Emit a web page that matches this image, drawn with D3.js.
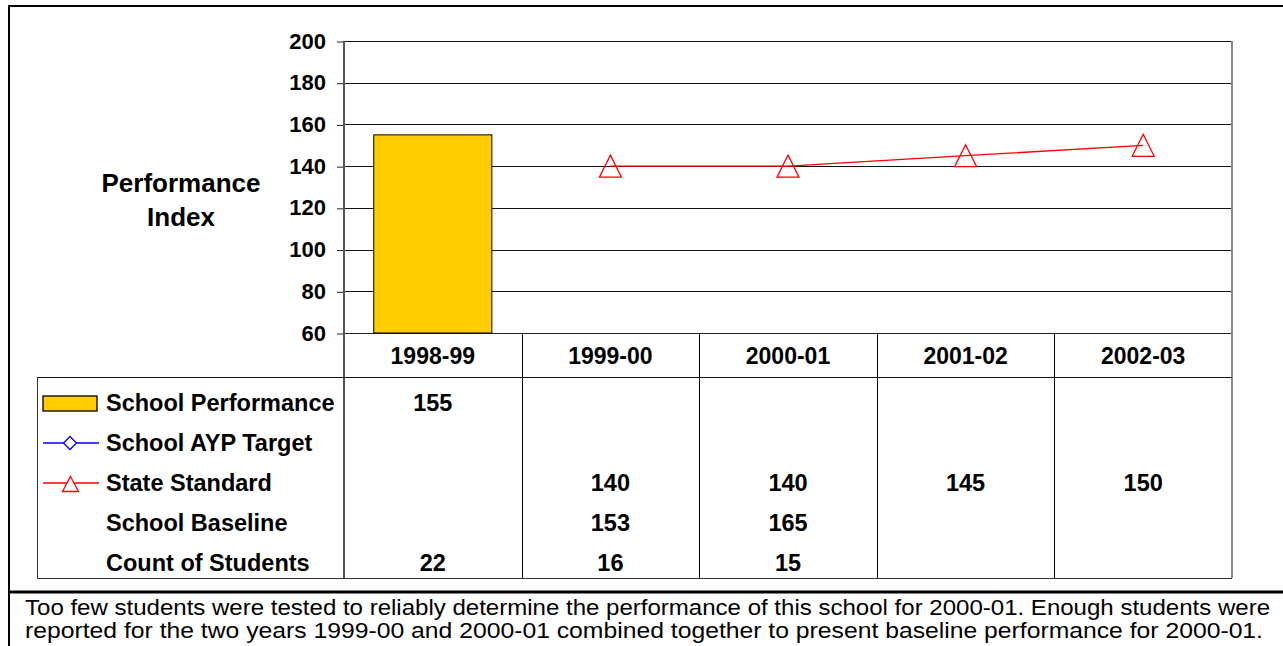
<!DOCTYPE html>
<html><head><meta charset="utf-8">
<script src="https://cdn.jsdelivr.net/npm/d3@7"></script>
<style>body{margin:0;background:#fff}svg{display:block}text{font-family:"Liberation Sans",Arial,sans-serif}</style>
</head><body>
<svg id="c" width="1283" height="646"></svg>
<script>
const categories = ["1998-99","1999-00","2000-01","2001-02","2002-03"];
const schoolPerformance = [155,null,null,null,null];
const schoolAYPTarget = [null,null,null,null,null];
const stateStandard = [null,140,140,145,150];
const schoolBaseline = [null,153,165,null,null];
const countOfStudents = [22,16,15,null,null];
const yTicks = [60,80,100,120,140,160,180,200];
const rowLabels = ["School Performance","School AYP Target","State Standard","School Baseline","Count of Students"];
const noteLines = ["Too few students were tested to reliably determine the performance of this school for 2000-01. Enough students were",
 "reported for the two years 1999-00 and 2000-01 combined together to present baseline performance for 2000-01."];

const svg = d3.select("#c");
const L=344,R=1232,T=41,B=333,tableTop=377,tableBot=578,tableLeft=37;
const x = d3.scaleBand().domain(categories).range([L,R]).padding(0);
const y = d3.scaleLinear().domain([60,200]).range([B,T]);
const bw = x.bandwidth();

// outer frame
svg.append("line").attr("x1",9).attr("x2",9).attr("y1",5).attr("y2",646).attr("stroke","#000").attr("stroke-width",2);
svg.append("line").attr("x1",8).attr("x2",1283).attr("y1",6).attr("y2",6).attr("stroke","#000").attr("stroke-width",2);
svg.append("line").attr("x1",8).attr("x2",1283).attr("y1",592).attr("y2",592).attr("stroke","#000").attr("stroke-width",3);

// gridlines
svg.append("g").selectAll("line").data(yTicks).join("line")
 .attr("x1",L).attr("x2",R).attr("y1",d=>Math.round(y(d))+0.5).attr("y2",d=>Math.round(y(d))+0.5)
 .attr("stroke",d=>d===60?"#222":"#111").attr("stroke-width",1);

// y axis
const yAxis = d3.axisLeft(y).tickValues(yTicks).tickSize(7).tickPadding(11);
const gy = svg.append("g").attr("transform",`translate(${L},0)`).call(yAxis);
gy.select(".domain").remove();
gy.selectAll(".tick line").attr("stroke","#222").attr("transform","translate(0,0.5)");
gy.selectAll(".tick text").attr("font-size",22).attr("font-weight","bold").attr("fill","#000")
 .attr("font-family","'Liberation Sans',Arial,sans-serif");

// axis left line & right border
svg.append("line").attr("x1",L).attr("x2",L).attr("y1",T).attr("y2",tableBot).attr("stroke","#555").attr("stroke-width",2);
svg.append("line").attr("x1",R).attr("x2",R).attr("y1",T).attr("y2",tableBot).attr("stroke","#888").attr("stroke-width",2);

// category separators through table
svg.append("g").selectAll("line").data(categories.slice(1)).join("line")
 .attr("x1",d=>Math.round(x(d))+0.5).attr("x2",d=>Math.round(x(d))+0.5).attr("y1",B).attr("y2",tableBot)
 .attr("stroke","#000").attr("stroke-width",1);
// category row bottom / table top
svg.append("line").attr("x1",tableLeft).attr("x2",R).attr("y1",tableTop+0.5).attr("y2",tableTop+0.5).attr("stroke","#111");
svg.append("line").attr("x1",tableLeft+0.5).attr("x2",tableLeft+0.5).attr("y1",tableTop).attr("y2",tableBot).attr("stroke","#333");
svg.append("line").attr("x1",tableLeft).attr("x2",R).attr("y1",tableBot+0.5).attr("y2",tableBot+0.5).attr("stroke","#333");

// category labels
svg.append("g").selectAll("text").data(categories).join("text")
 .attr("x",d=>x(d)+bw/2).attr("y",356).attr("dy","0.35em").attr("text-anchor","middle")
 .attr("font-size",23).attr("font-weight","bold").text(d=>d);

// bars
const barW = bw*0.665;
svg.append("g").selectAll("rect").data(categories.map((c,i)=>({c,v:schoolPerformance[i]})).filter(d=>d.v!=null)).join("rect")
 .attr("x",d=>x(d.c)+(bw-barW)/2).attr("width",barW).attr("y",d=>y(d.v)).attr("height",d=>B-y(d.v))
 .attr("fill","#ffcc00").attr("stroke","#000").attr("stroke-width",1);

// state standard line
const ss = categories.map((c,i)=>({c,v:stateStandard[i]})).filter(d=>d.v!=null);
svg.append("path").datum(ss).attr("fill","none").attr("stroke","#ff0000").attr("stroke-width",1.3)
 .attr("d",d3.line().x(d=>x(d.c)+bw/2).y(d=>y(d.v)));
const tri = (cx,cy,w,h)=>`M${cx},${cy-h/2}L${cx+w/2},${cy+h/2}L${cx-w/2},${cy+h/2}Z`;
svg.append("g").selectAll("path").data(ss).join("path")
 .attr("d",d=>tri(x(d.c)+bw/2,y(d.v),22,22)).attr("fill","none").attr("stroke","#ff0000").attr("stroke-width",1.3);

// AYP target line (no data)
const ayp = categories.map((c,i)=>({c,v:schoolAYPTarget[i]})).filter(d=>d.v!=null);
svg.append("path").datum(ayp).attr("fill","none").attr("stroke","#0000ff").attr("d",d3.line().x(d=>x(d.c)+bw/2).y(d=>y(d.v)));

// y title
const yt = svg.append("text").attr("x",181).attr("text-anchor","middle").attr("font-size",26).attr("font-weight","bold");
yt.append("tspan").attr("x",181).attr("y",192).text("Performance");
yt.append("tspan").attr("x",181).attr("y",226).text("Index");

// table rows
const rowY = [403,443,483,523,563];
const series = [schoolPerformance,schoolAYPTarget,stateStandard,schoolBaseline,countOfStudents];
svg.append("g").selectAll("text").data(rowLabels).join("text")
 .attr("x",106).attr("y",(d,i)=>rowY[i]).attr("dy","0.35em").attr("font-size",23.5).attr("font-weight","bold").text(d=>d);
series.forEach((s,ri)=>{
  svg.append("g").selectAll("text").data(categories.map((c,i)=>({c,v:s[i]})).filter(d=>d.v!=null)).join("text")
   .attr("x",d=>x(d.c)+bw/2).attr("y",rowY[ri]).attr("dy","0.35em").attr("text-anchor","middle")
   .attr("font-size",23.5).attr("font-weight","bold").text(d=>d.v);
});
// legend symbols
svg.append("rect").attr("x",43).attr("y",396).attr("width",54).attr("height",15).attr("fill","#ffcc00").attr("stroke","#000").attr("stroke-width",1.3);
svg.append("line").attr("x1",43).attr("x2",99).attr("y1",443).attr("y2",443).attr("stroke","#0000ff").attr("stroke-width",1.3);
svg.append("path").attr("d","M70,436.5L76.5,443L70,449.5L63.5,443Z").attr("fill","#fff").attr("stroke","#0000ff").attr("stroke-width",1.3);
svg.append("line").attr("x1",43).attr("x2",99).attr("y1",483).attr("y2",483).attr("stroke","#ff0000").attr("stroke-width",1.3);
svg.append("path").attr("d",tri(70.5,484,16,15)).attr("fill","#fff").attr("stroke","#ff0000").attr("stroke-width",1.3);

// note
const noteW = [1245,1238];
svg.append("g").selectAll("text").data(noteLines).join("text")
 .attr("x",25).attr("y",(d,i)=>615+i*22.5).attr("font-size",21.5).attr("fill","#000")
 .attr("textLength",(d,i)=>noteW[i]).attr("lengthAdjust","spacingAndGlyphs").text(d=>d);
</script>
</body></html>
